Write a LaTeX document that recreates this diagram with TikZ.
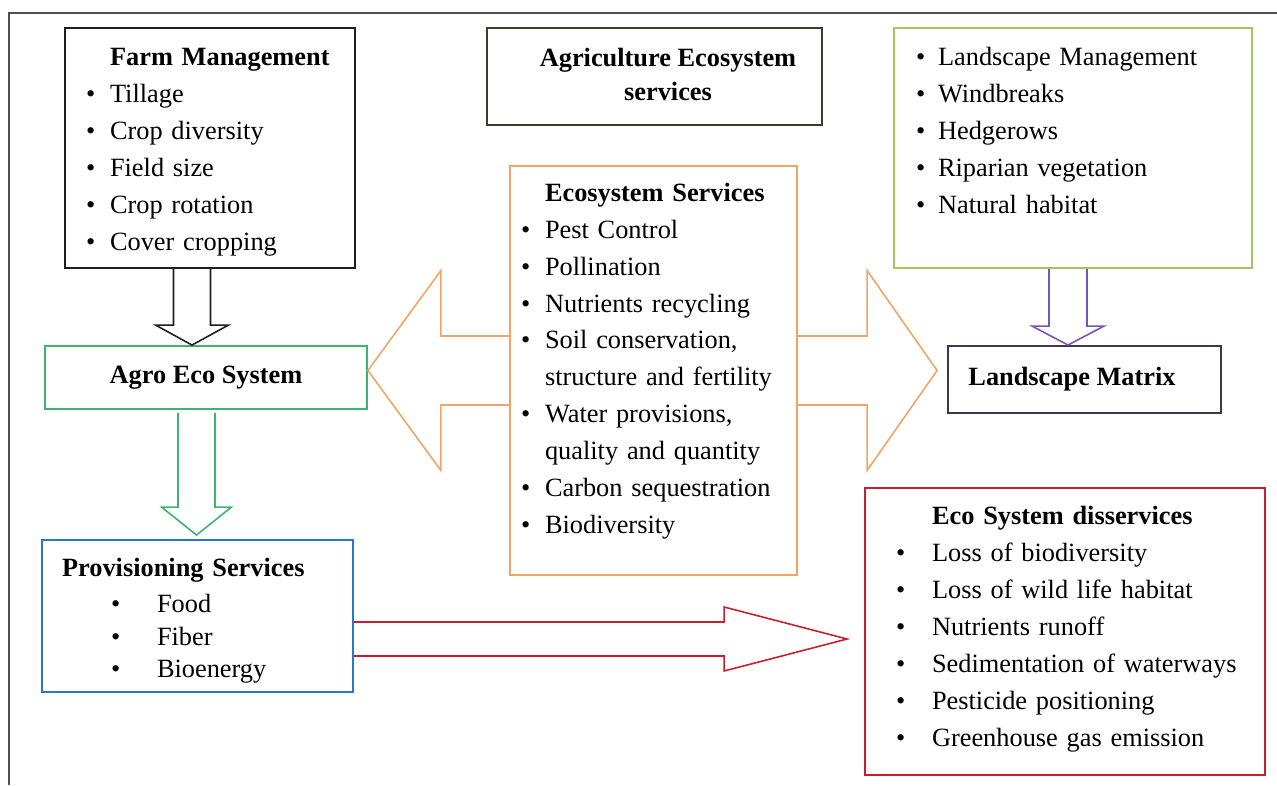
\documentclass[tikz,border=0pt]{standalone}
\usepackage{fontspec}
\setmainfont{Liberation Serif}
\usetikzlibrary{calc}
\definecolor{framegray}{RGB}{80,80,80}
\definecolor{farmc}{RGB}{30,30,30}
\definecolor{agric}{RGB}{60,60,50}
\definecolor{landc}{RGB}{160,200,95}
\definecolor{agroc}{RGB}{60,180,110}
\definecolor{matc}{RGB}{60,55,80}
\definecolor{ecoc}{RGB}{240,165,100}
\definecolor{provc}{RGB}{40,120,200}
\definecolor{disc}{RGB}{200,30,45}
\definecolor{purp}{RGB}{125,80,190}
\newcommand{\itm}[2]{\makebox[#1][l]{\textbullet}#2}
\newcommand{\blockv}[6]{\draw[#1] ($(#2)+(-#4,0)$) -- ($(#3)+(-#4,#6)$) -- ($(#3)+(-#5,#6)$) -- (#3) -- ($(#3)+(#5,#6)$) -- ($(#3)+(#4,#6)$) -- ($(#2)+(#4,0)$);}
\newcommand{\blockh}[6]{\draw[#1] ($(#2)+(0,-#4)$) -- ($(#3)+(#6,-#4)$) -- ($(#3)+(#6,-#5)$) -- (#3) -- ($(#3)+(#6,#5)$) -- ($(#3)+(#6,#4)$) -- ($(#2)+(0,#4)$);}
\begin{document}
\begin{tikzpicture}[x=0.02cm, y=-0.02cm,
    box/.style={draw, line width=1.1pt, font=\fontsize{15}{21}\selectfont, inner ysep=0pt},
    hollow/.style={draw, line width=0.9pt, line join=miter}]
  \useasboundingbox (0,0) rectangle (1277,785);
  \draw[framegray, line width=1.4pt] (9,785) -- (9,13) -- (1277,13);

  \node[box, draw=farmc, minimum width=5.8cm, minimum height=4.8cm, text width=4.96cm, inner xsep=0.42cm, align=left] (farm) at (210,148)
    {\rule{0pt}{14.5pt}\hspace*{0.48cm}\textbf{Farm Management}\\ \itm{0.48cm}{Tillage}\\ \itm{0.48cm}{Crop diversity}\\ \itm{0.48cm}{Field size}\\ \itm{0.48cm}{Crop rotation}\\ \itm{0.48cm}{Cover cropping}};
  \node[box, draw=agric, minimum width=6.7cm, minimum height=1.94cm, align=center, font=\fontsize{15}{21}\selectfont\bfseries] (agri) at (654.5,76.5)
    {\hspace*{0.54cm}Agriculture Ecosystem\\[-1.7pt]\hspace*{0.54cm}services\\[-18.7pt] \mbox{}};
  \node[box, draw=landc, minimum width=7.16cm, minimum height=4.8cm, text width=6.28cm, inner xsep=0.44cm, align=left] (land) at (1073,148)
    {\itm{0.44cm}{Landscape Management}\\ \itm{0.44cm}{Windbreaks}\\ \itm{0.44cm}{Hedgerows}\\ \itm{0.44cm}{Riparian vegetation}\\ \itm{0.44cm}{Natural habitat}\\[-1pt] \mbox{}};
  \node[box, draw=agroc, minimum width=6.44cm, minimum height=1.26cm] (agro) at (206,377.5) {\textbf{Agro Eco System}};
  \node[box, draw=matc, minimum width=5.46cm, minimum height=1.34cm] (matrix) at (1084.5,379.5) {\textbf{Landscape Matrix}\hspace*{0.5cm}};
  \node[box, draw=ecoc, minimum width=5.74cm, minimum height=8.18cm, text width=5.30cm, inner xsep=0.22cm, align=left] (eco) at (653.5,370.5)
    {\hspace*{0.48cm}\textbf{Ecosystem Services}\\ \itm{0.48cm}{Pest Control}\\ \itm{0.48cm}{Pollination}\\ \itm{0.48cm}{Nutrients recycling}\\
     \itm{0.48cm}{Soil conservation,}\\ \hspace*{0.48cm}structure and fertility\\ \itm{0.48cm}{Water provisions,}\\ \hspace*{0.48cm}quality and quantity\\
     \itm{0.48cm}{Carbon sequestration}\\ \itm{0.48cm}{Biodiversity}\\[-7pt] \mbox{}};
  \node[box, draw=provc, minimum width=6.22cm, minimum height=3.04cm, text width=5.42cm, inner xsep=0.4cm, align=left] (prov) at (197.5,616)
    {\rule{0pt}{16pt}\textbf{Provisioning Services}\\[-0.5pt] \hspace*{0.98cm}\itm{0.92cm}{Food}\\[-2.5pt] \hspace*{0.98cm}\itm{0.92cm}{Fiber}\\[-2.5pt] \hspace*{0.98cm}\itm{0.92cm}{Bioenergy}};
  \node[box, draw=disc, minimum width=8cm, minimum height=5.74cm, text width=6.76cm, inner xsep=0.62cm, align=left] (disserv) at (1065,631.5)
    {\hspace*{0.72cm}\textbf{Eco System disservices}\\ \itm{0.72cm}{Loss of biodiversity}\\ \itm{0.72cm}{Loss of wild life habitat}\\ \itm{0.72cm}{Nutrients runoff}\\
     \itm{0.72cm}{\mbox{Sedimentation of waterways}}\\ \itm{0.72cm}{Pesticide positioning}\\ \itm{0.72cm}{Greenhouse gas emission}\\[-15pt] \mbox{}};

  \coordinate (a1) at ($(farm.south)+(-18,0)$);
  \coordinate (b1) at (a1 |- agro.north);
  \blockv{hollow, draw=farmc}{a1}{b1}{18.5}{36.5}{-20}
  \coordinate (a2) at ($(agro.south)+(-9.5,3)$);
  \coordinate (b2) at ($(a2 |- prov.north)+(0,-4)$);
  \blockv{hollow, draw=agroc}{a2}{b2}{18.5}{35}{-28}
  \coordinate (a3) at ($(land.south)+(-5,0)$);
  \coordinate (b3) at (a3 |- matrix.north);
  \blockv{hollow, draw=purp}{a3}{b3}{19}{36}{-19}
  \coordinate (a4) at ($(prov.east)+(0,23)$);
  \coordinate (b4) at ($(disserv.west |- a4)+(-17,0)$);
  \blockh{hollow, draw=disc}{a4}{b4}{17}{32}{-123}
  \coordinate (b5) at (agro.east |- eco.west);
  \blockh{hollow, draw=ecoc}{eco.west}{b5}{34.5}{100}{73}
  \coordinate (b6) at ($(matrix.west |- eco.east)+(-10,0)$);
  \blockh{hollow, draw=ecoc}{eco.east}{b6}{34.5}{100}{-70}
\end{tikzpicture}
\end{document}
